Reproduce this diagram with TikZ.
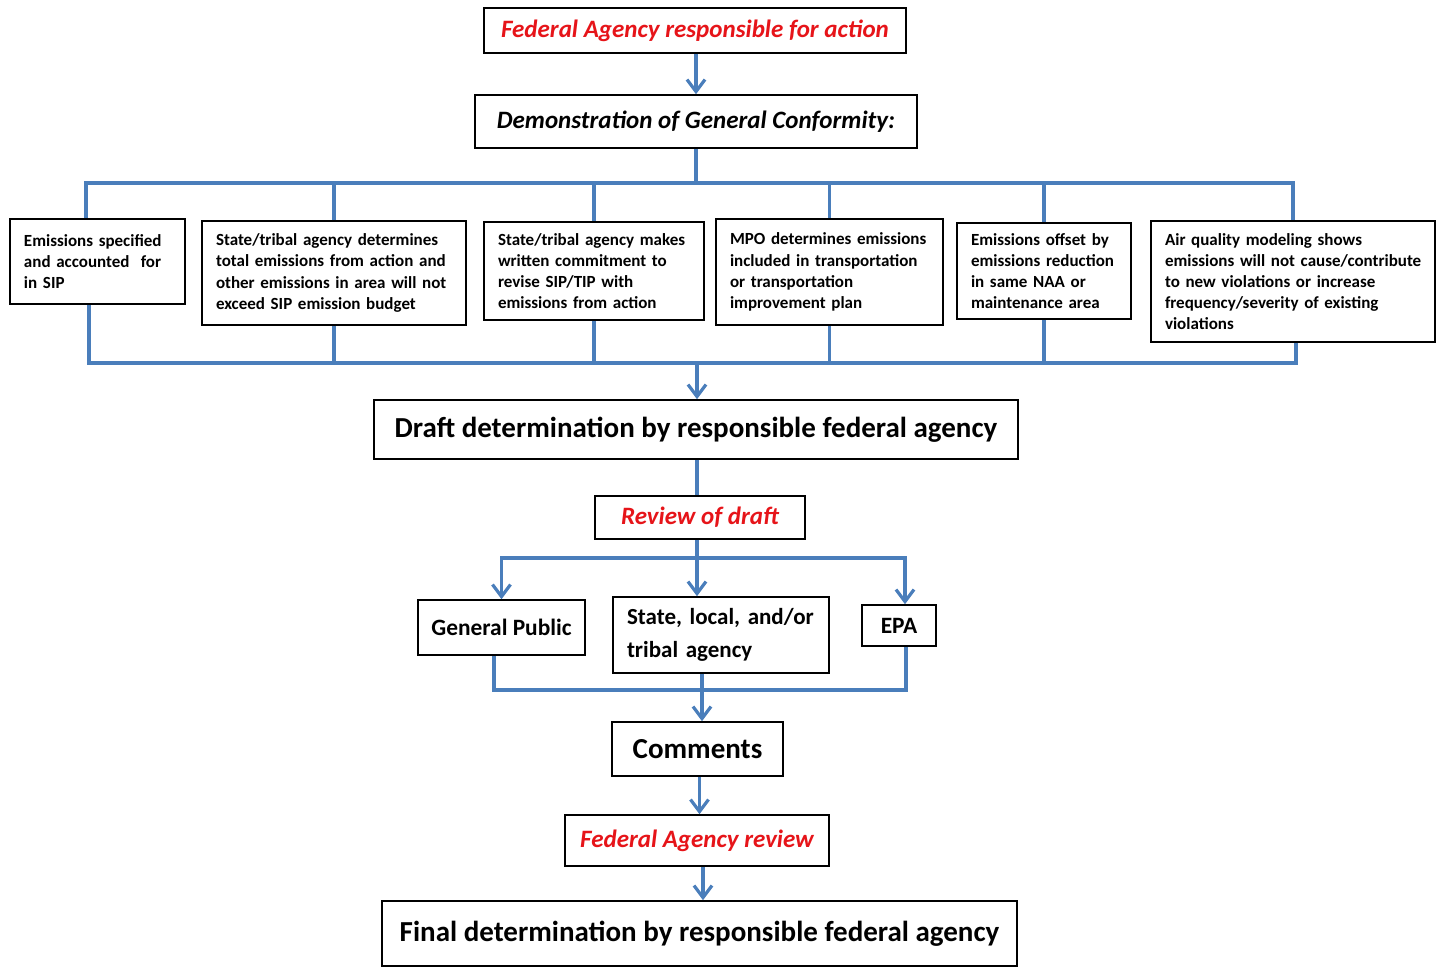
\documentclass[tikz,border=0pt]{standalone}
\usepackage{fontspec}
\setmainfont{Carlito}
\usetikzlibrary{arrows.meta}
\definecolor{lineblue}{RGB}{74,126,187}
\definecolor{redtxt}{RGB}{230,20,25}
\tikzset{
  conn/.style={draw=lineblue, line width=1.8pt},
  arr/.style={conn, -{Straight Barb[length=6pt,width=9pt,line width=1.6pt]}},
  bx/.style={draw=black, line width=0.8pt, inner sep=0pt, font=\bfseries},
  sbox/.style={bx, align=left, font=\bfseries\fontsize{8.5}{10.6}\selectfont},
  redbox/.style={bx, text=redtxt, font=\bfseries\itshape\fontsize{12.5}{14}\selectfont},
  bigbox/.style={bx, font=\bfseries\fontsize{14.5}{16}\selectfont},
  midbox/.style={bx, font=\bfseries\fontsize{11.7}{13}\selectfont},
}
\begin{document}
\begin{tikzpicture}[x=0.5pt,y=-0.5pt]
\useasboundingbox (0,0) rectangle (1438,969);
% top
\node[redbox, minimum width=211pt, minimum height=22.5pt] (top) at (695,30.5) {Federal Agency responsible for action};
\node[bx, font=\bfseries\itshape\fontsize{12.5}{14}\selectfont, minimum width=221pt, minimum height=26.5pt] (demo) at (696,121.5) {Demonstration of General Conformity:};
% six boxes
\node[sbox, minimum width=87.5pt, minimum height=42.5pt, text width=73.5pt] (b1) at (97.5,261.5) {Emissions specified\\and accounted\ \ for\\in SIP\\[4pt]};
\node[sbox, minimum width=132pt, minimum height=52pt, text width=118pt] (b2) at (334,273) {State/tribal agency determines\\total emissions from action and\\other emissions in area will not\\exceed SIP emission budget};
\node[sbox, minimum width=110pt, minimum height=49pt, text width=96pt] (b3) at (594,271) {State/tribal agency makes\\written commitment to\\revise SIP/TIP with\\emissions from action};
\node[sbox, minimum width=113.5pt, minimum height=53pt, text width=99.5pt] (b4) at (829.5,272) {MPO determines emissions\\included in transportation\\or transportation\\improvement plan\\[3pt]};
\node[sbox, minimum width=87pt, minimum height=48pt, text width=73pt] (b5) at (1044,271) {Emissions offset by\\emissions reduction\\in same NAA or\\maintenance area};
\node[sbox, minimum width=142pt, minimum height=60.5pt, text width=128pt] (b6) at (1293,281.5) {Air quality modeling shows\\\mbox{emissions will not cause/contribute}\\to new violations or increase\\frequency/severity of existing\\violations};
% draft
\node[bigbox, minimum width=322pt, minimum height=29.5pt] (draft) at (696,429.5) {Draft determination by responsible federal agency};
\node[redbox, minimum width=105pt, minimum height=21.5pt] (review) at (700,517.5) {Review of draft};
\node[midbox, minimum width=83.5pt, minimum height=27.5pt] (gp) at (501.5,627.5) {General Public};
\node[bx, align=left, font=\bfseries\fontsize{11.5}{16.5}\selectfont, minimum width=108pt, minimum height=38pt, text width=94pt] (st) at (721,635) {State, local, and/or\\tribal agency};
\node[midbox, minimum width=37pt, minimum height=20.5pt] (epa) at (899,625.5) {EPA};
\node[bigbox, minimum width=85.5pt, minimum height=27pt] (cm) at (697.5,749) {Comments};
\node[redbox, minimum width=132pt, minimum height=25.5pt] (far) at (697,840.5) {Federal Agency review};
\node[bigbox, minimum width=317.5pt, minimum height=32.5pt] (fin) at (699.5,933.5) {Final determination by responsible federal agency};
% buses
\coordinate (busT) at (696,183);
\coordinate (busB) at (697,363);
\coordinate (busR) at (697,558);
\coordinate (busC) at (702,690);
% connectors
\draw[arr] (top.south -| demo.south) -- (demo.north);
\draw[conn] (demo.south) -- (busT);
\draw[conn] ([xshift=-5.75pt]b1.north) |- (b6.north |- busT) -- (b6.north);
\foreach \b in {b2,b3,b4,b5} \draw[conn] (\b.north) -- (\b.north |- busT);
\draw[conn] ([xshift=-4.25pt]b1.south) |- ([xshift=1.5pt]b6.south |- busB) -- ([xshift=1.5pt]b6.south);
\foreach \b in {b2,b3,b4,b5} \draw[conn] (\b.south) -- (\b.south |- busB);
\draw[arr] (busB) -- (busB |- draft.north);
\draw[conn] (draft.south -| busB) -- (busB |- review.north);
\draw[conn] (busR |- review.south) -- (busR);
\draw[arr] (busR) -| (gp.north);
\draw[arr] (busR) -- (busR |- st.north);
\draw[arr] (busR) -| ([xshift=3pt]epa.north);
\draw[conn] ([xshift=-3.75pt]gp.south) |- ([xshift=3.5pt]epa.south |- busC) -- ([xshift=3.5pt]epa.south);
\draw[arr] (st.south -| busC) -- (busC |- cm.north);
\draw[arr] ([xshift=1pt]cm.south) -- ([xshift=1pt]cm.south |- far.north);
\draw[arr] ([xshift=3pt]far.south) -- ([xshift=3pt]far.south |- fin.north);
\end{tikzpicture}
\end{document}
